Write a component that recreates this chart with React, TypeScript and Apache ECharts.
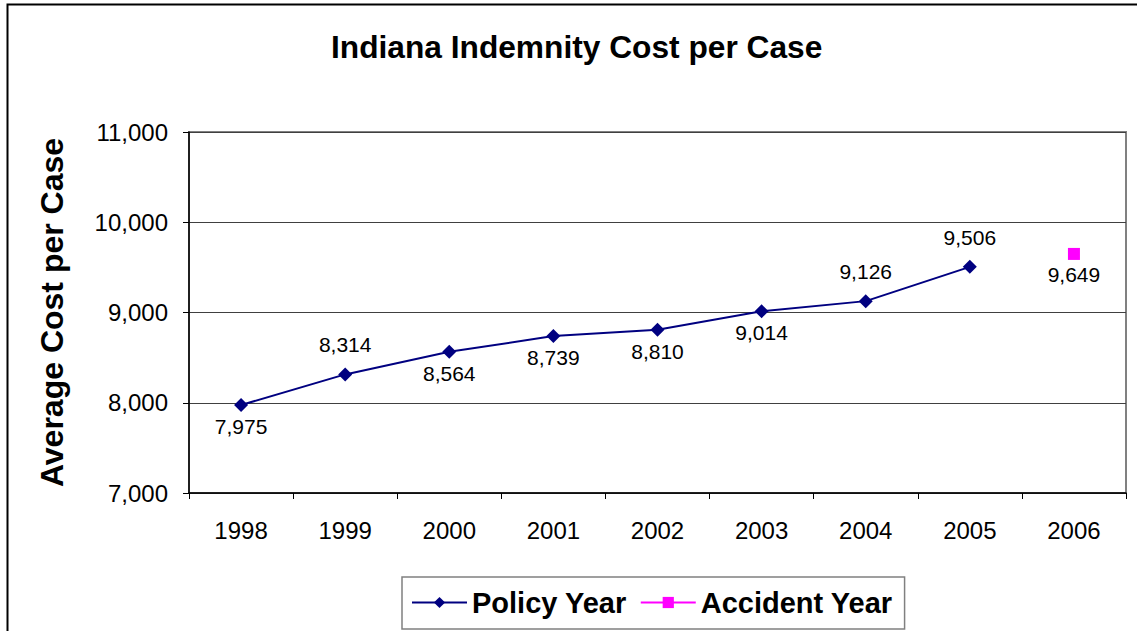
import React, { useEffect, useRef } from "react";
import * as echarts from "echarts";

const categories = ["1998", "1999", "2000", "2001", "2002", "2003", "2004", "2005", "2006"];
const policyYear = [7975, 8314, 8564, 8739, 8810, 9014, 9126, 9506, null];
const accidentYear = [null, null, null, null, null, null, null, null, 9649];
const policyLabelPos = ["bottom", "top", "bottom", "bottom", "bottom", "bottom", "top", "top", "top"];
const yTicks = { min: 7000, max: 11000, interval: 1000 };

const fmt = (v: number) => v.toLocaleString("en-US");

export default function App() {
  const ref = useRef<HTMLDivElement>(null);
  useEffect(() => {
    const chart = echarts.init(ref.current!, null, { renderer: "svg" });
    const font = "Arial, 'Liberation Sans', sans-serif";
    chart.setOption({
      animation: false,
      backgroundColor: "#ffffff",
      textStyle: { fontFamily: font },
      title: {
        text: "Indiana Indemnity Cost per Case",
        left: 331,
        top: 31,
        padding: 0,
        textStyle: { fontSize: 31.7, fontWeight: "bold", color: "#000", fontFamily: font },
      },
      graphic: [
        {
          type: "rect",
          shape: { x: 7.5, y: 4.5, width: 1200, height: 700 },
          style: { fill: "none", stroke: "#000", lineWidth: 2 },
          silent: true,
          z: -1,
        },
      ],
      grid: {
        left: 189,
        top: 132,
        right: 11,
        bottom: 138,
        show: true,
        borderColor: "#808080",
        borderWidth: 2,
        backgroundColor: "transparent",
      },
      legend: {
        left: 402,
        top: 577,
        padding: [11, 12, 12, 9],
        itemGap: 13,
        itemWidth: 55,
        itemHeight: 14,
        borderColor: "#808080",
        borderWidth: 1.5,
        textStyle: { fontSize: 29, fontWeight: "bold", color: "#000", fontFamily: font },
        data: ["Policy Year", "Accident Year"],
      },
      xAxis: {
        type: "category",
        data: categories,
        boundaryGap: true,
        axisLine: { lineStyle: { color: "#000", width: 1.5 } },
        axisTick: { show: true, length: 6, lineStyle: { color: "#000" } },
        axisLabel: { fontSize: 24, color: "#000", margin: 25, fontFamily: font },
      },
      yAxis: {
        type: "value",
        min: yTicks.min,
        max: yTicks.max,
        interval: yTicks.interval,
        name: "Average Cost per Case",
        nameLocation: "middle",
        nameGap: 121,
        nameTextStyle: { fontSize: 32, fontWeight: "bold", color: "#000", fontFamily: font },
        axisLine: { show: true, lineStyle: { color: "#000", width: 1.5 } },
        axisTick: { show: true, length: 6, lineStyle: { color: "#000" } },
        axisLabel: { fontSize: 24, color: "#000", margin: 21, formatter: (v: number) => fmt(v), fontFamily: font },
        splitLine: { show: true, lineStyle: { color: "#404040", width: 1 } },
      },
      series: [
        {
          name: "Policy Year",
          type: "line",
          data: policyYear.map((v, i) => ({
            value: v,
            label: {
              position: policyLabelPos[i],
              distance: policyLabelPos[i] === "top" ? 12 : 4,
            },
          })),
          symbol: "diamond",
          symbolSize: 14,
          color: "#000080",
          lineStyle: { color: "#000080", width: 2 },
          itemStyle: { color: "#000080" },
          label: {
            show: true,
            fontSize: 21,
            color: "#000",
            fontFamily: font,
            formatter: (p: any) => fmt(p.value),
          },
          connectNulls: false,
        },
        {
          name: "Accident Year",
          type: "line",
          data: accidentYear,
          symbol: "rect",
          symbolSize: 12,
          color: "#FF00FF",
          lineStyle: { color: "#FF00FF", width: 2 },
          itemStyle: { color: "#FF00FF" },
          label: {
            show: true,
            position: "bottom",
            fontSize: 21,
            color: "#000",
            distance: 4,
            fontFamily: font,
            formatter: (p: any) => fmt(p.value),
          },
        },
      ],
    });
    return () => chart.dispose();
  }, []);
  return (
    <div
      ref={ref}
      style={{ position: "fixed", left: 0, top: 0, width: 1137, height: 631 }}
    />
  );
}
